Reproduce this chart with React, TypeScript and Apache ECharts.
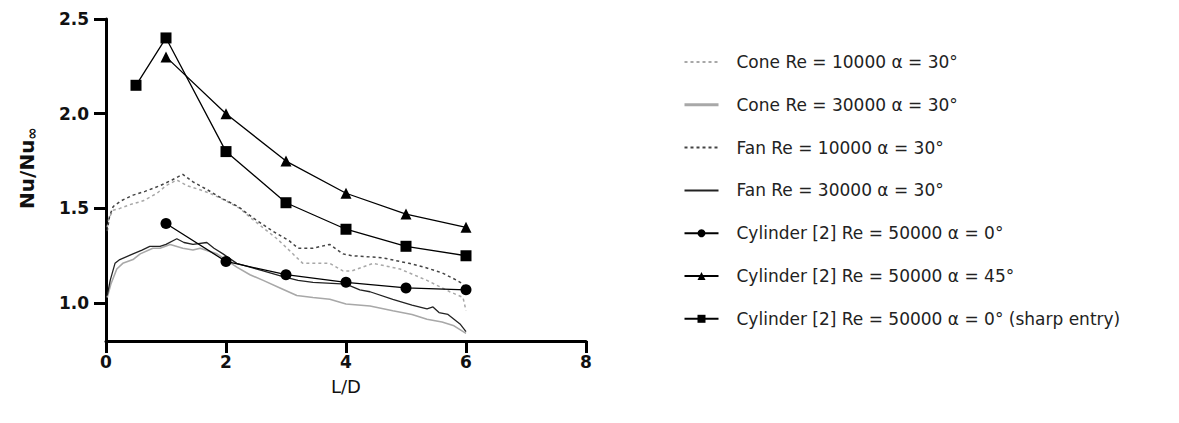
import React, { useEffect, useRef } from "react";
import * as echarts from "echarts";

const seriesNames = [
  "Cone Re = 10000 α = 30°",
  "Cone Re = 30000 α = 30°",
  "Fan Re = 10000 α = 30°",
  "Fan Re = 30000 α = 30°",
  "Cylinder [2] Re = 50000 α = 0°",
  "Cylinder [2] Re = 50000 α = 45°",
  "Cylinder [2] Re = 50000 α = 0° (sharp entry)",
];

const xTicks = [0, 2, 4, 6, 8];
const yTicks = [1.0, 1.5, 2.0, 2.5];

const cone10000: number[][] = [
  [0.02, 1.4], [0.05, 1.45], [0.12, 1.49], [0.23, 1.5], [0.4, 1.52], [0.62, 1.54],
  [0.85, 1.58], [1.0, 1.62], [1.18, 1.65], [1.35, 1.62], [1.55, 1.6], [1.73, 1.58],
  [2.0, 1.54], [2.23, 1.5], [2.45, 1.44], [2.85, 1.34], [3.05, 1.28], [3.18, 1.24],
  [3.28, 1.21], [3.5, 1.21], [3.73, 1.21], [3.95, 1.17], [4.1, 1.17], [4.45, 1.21],
  [4.9, 1.18], [5.35, 1.12], [5.73, 1.06], [5.95, 1.03], [6.0, 0.96],
];

const cone30000: number[][] = [
  [0.02, 1.03], [0.08, 1.1], [0.18, 1.18], [0.28, 1.21], [0.45, 1.23], [0.57, 1.26],
  [0.78, 1.29], [0.9, 1.29], [1.07, 1.31], [1.28, 1.29], [1.45, 1.28], [1.57, 1.29],
  [1.85, 1.26], [2.18, 1.19], [2.4, 1.15], [2.62, 1.12], [2.9, 1.08], [3.18, 1.04],
  [3.45, 1.03], [3.73, 1.02], [4.0, 0.995], [4.4, 0.985], [4.78, 0.96], [5.1, 0.94],
  [5.35, 0.915], [5.6, 0.9], [5.8, 0.88], [6.0, 0.84],
];

const fan10000: number[][] = [
  [0.02, 1.38], [0.06, 1.46], [0.12, 1.51], [0.25, 1.54], [0.45, 1.57], [0.65, 1.59],
  [0.9, 1.62], [1.1, 1.65], [1.28, 1.68], [1.45, 1.64], [1.68, 1.6], [1.95, 1.55],
  [2.2, 1.51], [2.45, 1.45], [2.78, 1.38], [3.05, 1.33], [3.2, 1.29], [3.45, 1.29],
  [3.73, 1.31], [3.95, 1.26], [4.1, 1.25], [4.6, 1.24], [5.05, 1.21], [5.3, 1.19],
  [5.6, 1.16], [5.85, 1.12], [5.95, 1.1], [6.0, 1.06],
];

const fan30000: number[][] = [
  [0.02, 1.04], [0.07, 1.12], [0.15, 1.21], [0.23, 1.23], [0.45, 1.26], [0.6, 1.28],
  [0.73, 1.3], [0.9, 1.3], [1.0, 1.31], [1.18, 1.34], [1.3, 1.32], [1.45, 1.31],
  [1.68, 1.32], [1.8, 1.29], [1.95, 1.26], [2.18, 1.21], [2.4, 1.19], [2.62, 1.17],
  [2.95, 1.14], [3.2, 1.12], [3.45, 1.11], [4.0, 1.1], [4.23, 1.07], [4.4, 1.06],
  [4.78, 1.02], [5.1, 0.99], [5.35, 0.97], [5.45, 0.98], [5.55, 0.95], [5.7, 0.94],
  [5.8, 0.915], [5.9, 0.89], [6.0, 0.85],
];

const cylinder0: number[][] = [
  [1, 1.42], [2, 1.22], [3, 1.15], [4, 1.11], [5, 1.08], [6, 1.07],
];

const cylinder45: number[][] = [
  [1, 2.3], [2, 2.0], [3, 1.75], [4, 1.58], [5, 1.47], [6, 1.4],
];

const cylinderSharp: number[][] = [
  [0.5, 2.15], [1, 2.4], [2, 1.8], [3, 1.53], [4, 1.39], [5, 1.3], [6, 1.25],
];

const FONT = "DejaVu Sans";

export default function App() {
  const ref = useRef<HTMLDivElement>(null);
  useEffect(() => {
    if (!ref.current) return;
    const chart = echarts.init(ref.current, undefined, { renderer: "svg" });
    const curve = (name: string, data: number[][], color: string, dashed: boolean, width = 1.5) => ({
      name,
      type: "line",
      data,
      symbol: "none",
      lineStyle: { color, width, type: dashed ? [3, 3] : "solid" },
      itemStyle: { color },
      z: 2,
    });
    const cyl = (name: string, data: number[][], symbol: string, size: number) => ({
      name,
      type: "line",
      data,
      symbol,
      symbolSize: size,
      showSymbol: true,
      lineStyle: { color: "#000", width: 1.3 },
      itemStyle: { color: "#000" },
      z: 5,
    });
    const legendData = seriesNames.map((n, i) => {
      if (i === 1) return { name: n, itemStyle: { opacity: 0 }, lineStyle: { width: 3 } };
      if (i < 4) return { name: n, itemStyle: { opacity: 0 } };
      return { name: n };
    });
    chart.setOption({
      animation: false,
      backgroundColor: "#fff",
      grid: { left: 106, top: 19, width: 480, height: 322, containLabel: false },
      xAxis: {
        type: "value",
        min: 0,
        max: 8,
        interval: 2,
        name: "L/D",
        nameLocation: "middle",
        nameGap: 36,
        nameTextStyle: { fontFamily: FONT, fontSize: 18, color: "#111" },
        axisLine: { lineStyle: { color: "#000", width: 3 } },
        axisTick: { show: true, length: 12, lineStyle: { color: "#000", width: 3 } },
        axisLabel: { fontFamily: FONT, fontSize: 17, fontWeight: "bold", color: "#111", margin: 12 },
        splitLine: { show: false },
        data: xTicks,
      },
      yAxis: {
        type: "value",
        min: 0.8,
        max: 2.5,
        axisLine: { show: true, lineStyle: { color: "#000", width: 3 } },
        axisTick: { show: true, length: 12, customValues: yTicks, lineStyle: { color: "#000", width: 3 } },
        axisLabel: {
          fontFamily: FONT,
          fontSize: 17,
          fontWeight: "bold",
          color: "#111",
          margin: 17,
          customValues: yTicks,
          formatter: (v: number) => v.toFixed(1),
        },
        splitLine: { show: false },
      },
      legend: {
        orient: "vertical",
        left: 678,
        top: 48,
        itemWidth: 34,
        itemHeight: 10,
        itemGap: 24.8,
        data: legendData,
        textStyle: { fontFamily: FONT, fontSize: 17, color: "#222", lineHeight: 18, padding: [0, 0, 0, 13] },
      },
      graphic: [
        {
          type: "text",
          x: 27,
          y: 168,
          rotation: Math.PI / 2,
          style: {
            text: "{a|Nu/Nu}{s|∞}",
            align: "center",
            verticalAlign: "middle",
            rich: {
              a: { fontFamily: FONT, fontSize: 20, fontWeight: "bold", fill: "#111", lineHeight: 24 },
              s: { fontFamily: FONT, fontSize: 15, fontWeight: "bold", fill: "#111", lineHeight: 24, padding: [10, 0, 0, 0] },
            },
          },
        },
      ],
      series: [
        curve(seriesNames[0], cone10000, "#a8a8a8", true),
        curve(seriesNames[1], cone30000, "#a8a8a8", false, 1.6),
        curve(seriesNames[2], fan10000, "#444", true),
        curve(seriesNames[3], fan30000, "#222", false, 1.3),
        cyl(seriesNames[4], cylinder0, "circle", 11),
        cyl(seriesNames[5], cylinder45, "triangle", 11),
        cyl(seriesNames[6], cylinderSharp, "rect", 11),
      ],
    });
    return () => chart.dispose();
  }, []);
  return (
    <div
      ref={ref}
      style={{ position: "fixed", left: 0, top: 0, width: 1179, height: 423, background: "#fff" }}
    />
  );
}
